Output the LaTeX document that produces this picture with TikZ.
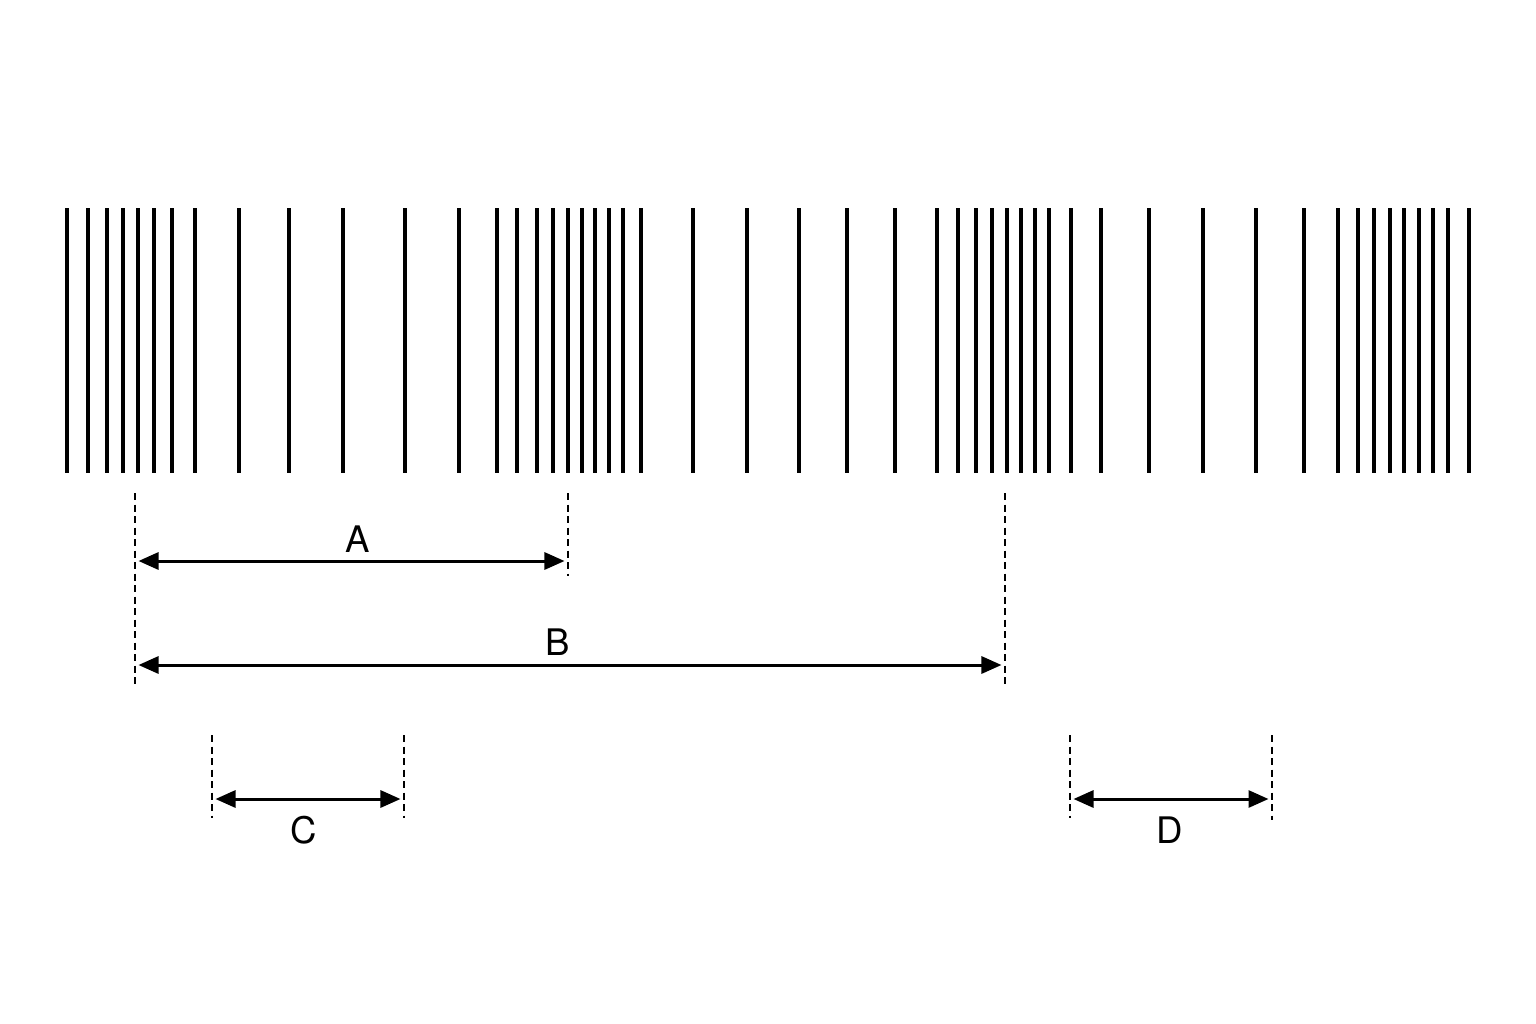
\documentclass[tikz,border=0pt]{standalone}
\usepackage{fontspec}
\setmainfont{TeX Gyre Heros}
\usetikzlibrary{calc}
\usetikzlibrary{arrows.meta}

\begin{document}
\begin{tikzpicture}[x=0.01cm, y=-0.01cm,
    bar/.style={line width=1.05pt},
    guide/.style={line width=0.55pt, dash pattern=on 0.07cm off 0.045cm},
    dim/.style={line width=0.85pt, shorten <=0.035cm, shorten >=0.035cm,
        {Triangle[length=0.2cm, width=0.17cm]}-{Triangle[length=0.2cm, width=0.17cm]}},
    lbl/.style={font=\fontsize{10.4}{12}\selectfont, inner sep=0pt}]
    \useasboundingbox (0,0) rectangle (1536,1024);
    % barcode-like strokes
    \def\Bars{67, 88, 107, 123, 138, 154, 172, 195, 239, 289, 343, 405, 459, 497, 517, 537, 553, 568, 582, 595, 609, 623, 641, 693, 747, 799, 847, 895, 937, 958, 976, 992, 1007, 1021, 1035, 1049, 1071, 1101, 1149, 1203, 1256, 1304, 1338, 1358, 1374, 1390, 1404, 1419, 1433, 1448, 1469}
    \foreach \x[count=\i from 1] in \Bars
    {
        \draw[bar] (\x, 208) -- (\x, 473);
    }
    % guide lines
    \coordinate (g1) at (135, 493);
    \coordinate (g2) at (568, 493);
    \coordinate (g3) at (1005, 493);
    \draw[guide] (g1) -- (135, 684);
    \draw[guide] (g2) -- (568, 576);
    \draw[guide] (g3) -- (1005, 684);
    \draw[guide] (212, 735) -- (212, 818);
    \draw[guide] (404, 735) -- (404, 818);
    \draw[guide] (1070, 735) -- (1070, 818);
    \draw[guide] (1272, 735) -- (1272, 820);
    % dimension arrows
    \coordinate (a1) at (135, 561);
    \coordinate (a2) at (568, 561);
    \coordinate (b1) at (135, 665);
    \coordinate (b2) at (1005, 665);
    \coordinate (c1) at (212, 799);
    \coordinate (c2) at (404, 799);
    \coordinate (d1) at (1070, 799);
    \coordinate (d2) at (1272, 799);
    \draw[dim] (a1) -- (a2);
    \draw[dim] (b1) -- (b2);
    \draw[dim] (c1) -- (c2);
    \draw[dim] (d1) -- (d2);
    \node[lbl] (labA) at (358, 539) {A};
    \node[lbl] (labB) at (558, 642) {B};
    \node[lbl] (labC) at (304, 830) {C};
    \node[lbl] (labD) at (1170, 830) {D};
\end{tikzpicture}
\end{document}
